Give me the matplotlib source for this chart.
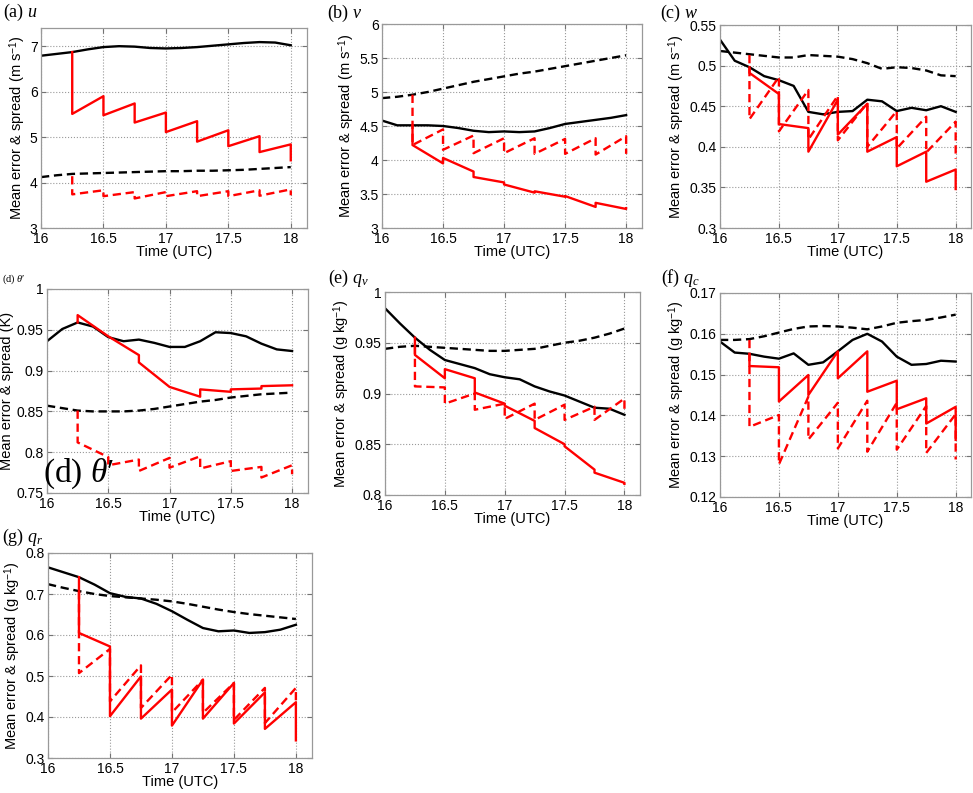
import numpy as np
import matplotlib
matplotlib.use("Agg")
import matplotlib.pyplot as plt
from matplotlib.ticker import FormatStrFormatter

plt.rcParams['font.family'] = ['Liberation Sans', 'DejaVu Sans']
plt.rcParams['mathtext.fontset'] = 'custom'
plt.rcParams['mathtext.rm'] = 'Liberation Sans'
plt.rcParams['mathtext.it'] = 'Liberation Serif:italic'

# time axis for the black curves (every 7.5 min) and the DA cycle times
t = np.arange(16, 18.001, 0.125)
cycles = [16.25, 16.5, 16.75, 17.0, 17.25, 17.5, 17.75, 18.0]

# ---------- (a) u
u_err = [6.79, 6.83, 6.87, 6.93, 6.98, 7.00, 6.99, 6.96, 6.95, 6.96, 6.98, 7.01, 7.04, 7.07, 7.09, 7.08, 7.02]
u_spr = [4.12, 4.16, 4.19, 4.20, 4.21, 4.22, 4.23, 4.24, 4.25, 4.25, 4.26, 4.26, 4.27, 4.28, 4.30, 4.32, 4.34]
u_da_err_f = [6.87, 5.90, 5.74, 5.54, 5.35, 5.15, 5.02, 4.84]
u_da_err_a = [5.51, 5.48, 5.32, 5.11, 4.90, 4.80, 4.67, 4.49]
u_da_spr_f = [4.14, 3.83, 3.79, 3.79, 3.81, 3.81, 3.83, 3.85]
u_da_spr_a = [3.74, 3.70, 3.65, 3.70, 3.70, 3.70, 3.71, 3.72]

# ---------- (b) v
v_err = [4.58, 4.51, 4.51, 4.51, 4.50, 4.47, 4.43, 4.41, 4.42, 4.41, 4.42, 4.47, 4.53, 4.56, 4.59, 4.62, 4.66]
v_spr = [4.91, 4.93, 4.96, 5.00, 5.05, 5.10, 5.15, 5.19, 5.23, 5.27, 5.30, 5.34, 5.38, 5.42, 5.46, 5.50, 5.54]
v_da_err_f = [4.51, 3.95, 3.83, 3.67, 3.52, 3.46, 3.31, 3.28]
v_da_err_a = [4.22, 4.03, 3.75, 3.64, 3.54, 3.47, 3.37, 3.29]
v_da_spr_f = [4.96, 4.45, 4.36, 4.32, 4.32, 4.31, 4.32, 4.35]
v_da_spr_a = [4.22, 4.15, 4.10, 4.10, 4.09, 4.09, 4.08, 4.09]

# ---------- (c) w
w_err = [0.532, 0.506, 0.498, 0.487, 0.482, 0.475, 0.443, 0.440, 0.443, 0.444, 0.458, 0.456, 0.444, 0.448, 0.445, 0.450, 0.443]
w_spr = [0.518, 0.516, 0.514, 0.512, 0.510, 0.510, 0.513, 0.512, 0.511, 0.508, 0.503, 0.496, 0.498, 0.497, 0.494, 0.488, 0.487]
w_da_err_f = [0.498, 0.465, 0.423, 0.458, 0.453, 0.412, 0.394, 0.372]
w_da_err_a = [0.491, 0.428, 0.394, 0.415, 0.394, 0.376, 0.357, 0.348]
w_da_spr_f = [0.513, 0.486, 0.470, 0.463, 0.454, 0.444, 0.437, 0.431]
w_da_spr_a = [0.434, 0.419, 0.409, 0.408, 0.400, 0.398, 0.393, 0.385]

# ---------- (d) theta'
th_err = [0.936, 0.951, 0.959, 0.954, 0.941, 0.936, 0.938, 0.934, 0.929, 0.929, 0.936, 0.947, 0.946, 0.942, 0.933, 0.926, 0.924]
th_spr = [0.857, 0.854, 0.851, 0.850, 0.850, 0.850, 0.851, 0.853, 0.856, 0.859, 0.862, 0.864, 0.867, 0.869, 0.871, 0.872, 0.873]
th_da_err_f = [0.959, 0.942, 0.919, 0.880, 0.868, 0.874, 0.878, 0.882]
th_da_err_a = [0.968, 0.942, 0.910, 0.880, 0.877, 0.877, 0.881, 0.882]
th_da_spr_f = [0.851, 0.794, 0.791, 0.793, 0.795, 0.789, 0.782, 0.784]
th_da_spr_a = [0.812, 0.784, 0.777, 0.781, 0.780, 0.777, 0.769, 0.773]

# ---------- (e) qv
qv_err = [0.984, 0.969, 0.955, 0.943, 0.933, 0.929, 0.925, 0.919, 0.916, 0.914, 0.907, 0.902, 0.898, 0.892, 0.886, 0.885, 0.879]
qv_spr = [0.944, 0.946, 0.947, 0.946, 0.945, 0.944, 0.943, 0.942, 0.942, 0.943, 0.944, 0.947, 0.950, 0.952, 0.955, 0.959, 0.964]
qv_da_err_f = [0.955, 0.915, 0.915, 0.890, 0.873, 0.850, 0.825, 0.812]
qv_da_err_a = [0.938, 0.924, 0.901, 0.888, 0.866, 0.848, 0.822, 0.811]
qv_da_spr_f = [0.947, 0.906, 0.900, 0.890, 0.890, 0.889, 0.887, 0.895]
qv_da_spr_a = [0.907, 0.890, 0.884, 0.875, 0.874, 0.874, 0.874, 0.884]

# ---------- (f) qc
qc_err = [0.1581, 0.1554, 0.1551, 0.1544, 0.1539, 0.1552, 0.1524, 0.1530, 0.1557, 0.1585, 0.1600, 0.1581, 0.1544, 0.1524, 0.1526, 0.1534, 0.1532]
qc_spr = [0.1585, 0.1585, 0.1587, 0.1594, 0.1603, 0.1612, 0.1618, 0.1619, 0.1618, 0.1615, 0.1611, 0.1618, 0.1627, 0.1631, 0.1634, 0.1640, 0.1647]
qc_da_err_f = [0.1551, 0.1518, 0.1499, 0.1557, 0.1557, 0.1485, 0.1442, 0.1421]
qc_da_err_a = [0.1521, 0.1434, 0.1450, 0.1491, 0.1458, 0.1415, 0.1380, 0.1340]
qc_da_spr_f = [0.1585, 0.1401, 0.1446, 0.1431, 0.1436, 0.1431, 0.1423, 0.1403]
qc_da_spr_a = [0.1372, 0.1280, 0.1341, 0.1319, 0.1311, 0.1316, 0.1308, 0.1292]

# ---------- (g) qr
qr_err = [0.765, 0.753, 0.741, 0.723, 0.702, 0.693, 0.689, 0.676, 0.658, 0.637, 0.617, 0.609, 0.611, 0.605, 0.607, 0.613, 0.625]
qr_spr = [0.724, 0.715, 0.707, 0.700, 0.695, 0.692, 0.689, 0.686, 0.682, 0.676, 0.669, 0.662, 0.656, 0.651, 0.647, 0.643, 0.639]
qr_da_err_f = [0.741, 0.572, 0.499, 0.467, 0.491, 0.483, 0.460, 0.436]
qr_da_err_a = [0.605, 0.402, 0.396, 0.379, 0.396, 0.384, 0.371, 0.343]
qr_da_spr_f = [0.707, 0.566, 0.526, 0.503, 0.491, 0.483, 0.471, 0.471]
qr_da_spr_a = [0.507, 0.438, 0.422, 0.411, 0.410, 0.393, 0.385, 0.430]

panels = [
    ("(a) ", "$u$", "m s$^{-1}$", (3, 7.4), np.arange(3, 7.01, 1),
     u_err, u_spr, u_da_err_f, u_da_err_a, u_da_spr_f, u_da_spr_a),
    ("(b) ", "$v$", "m s$^{-1}$", (3, 6), np.arange(3, 6.01, 0.5),
     v_err, v_spr, v_da_err_f, v_da_err_a, v_da_spr_f, v_da_spr_a),
    ("(c) ", "$w$", "m s$^{-1}$", (0.3, 0.55), np.arange(0.3, 0.551, 0.05),
     w_err, w_spr, w_da_err_f, w_da_err_a, w_da_spr_f, w_da_spr_a),
    ("(d) ", "$\\theta$\u2032", "K", (0.75, 1.0), np.arange(0.75, 1.001, 0.05),
     th_err, th_spr, th_da_err_f, th_da_err_a, th_da_spr_f, th_da_spr_a),
    ("(e) ", "$q_v$", "g kg$^{-1}$", (0.8, 1.0), np.arange(0.8, 1.001, 0.05),
     qv_err, qv_spr, qv_da_err_f, qv_da_err_a, qv_da_spr_f, qv_da_spr_a),
    ("(f) ", "$q_c$", "g kg$^{-1}$", (0.12, 0.17), np.arange(0.12, 0.1701, 0.01),
     qc_err, qc_spr, qc_da_err_f, qc_da_err_a, qc_da_spr_f, qc_da_spr_a),
    ("(g) ", "$q_r$", "g kg$^{-1}$", (0.3, 0.8), np.arange(0.3, 0.801, 0.1),
     qr_err, qr_spr, qr_da_err_f, qr_da_err_a, qr_da_spr_f, qr_da_spr_a),
]

# layout in pixels: axes (left, top, right, bottom), title (x, y)
W, H = 973, 793
boxes = [(41, 28, 307, 228), (382, 24, 642, 228), (720, 25, 971, 228),
         (47, 289, 308, 493), (385, 292, 640, 495), (720, 293, 971, 497),
         (48, 553, 312, 758)]
title_pos = [(3, 12), (327, 13), (660, 13), (2, 279), (328, 278), (661, 278), (2, 537)]


def sawtooth(fc, an):
    x = np.repeat(cycles, 2)
    y = np.column_stack([fc, an]).ravel()
    return x, y


fig = plt.figure(figsize=(W / 100, H / 100), dpi=100)
dash = (0, (3.5, 2.0))

for i, p in enumerate(panels):
    lab, sym, unit, ylim, yticks, err, spr, ef, ea, sf, sa = p
    l, tp, r, b = boxes[i]
    ax = fig.add_axes([l / W, 1 - b / H, (r - l) / W, (b - tp) / H])

    ax.plot(t, err, color='k', lw=1.7)
    ax.plot(t, spr, color='k', lw=1.7, linestyle=dash)
    xs, ys = sawtooth(ef, ea)
    ax.plot(xs, ys, color='r', lw=1.7)
    xs, ys = sawtooth(sf, sa)
    ax.plot(xs, ys, color='r', lw=1.7, linestyle=dash)

    ax.set_xlim(16, 18.13)
    ax.set_ylim(*ylim)
    ax.set_xticks([16, 16.5, 17, 17.5, 18])
    ax.set_yticks(yticks)
    ax.xaxis.set_major_formatter(FormatStrFormatter('%g'))
    ax.yaxis.set_major_formatter(FormatStrFormatter('%g'))
    ax.grid(True, linestyle=':', color='0.6', lw=0.8)
    ax.tick_params(direction='in', top=True, right=True, length=3.5,
                   color='0.45', labelcolor='k', labelsize=10)
    ax.tick_params(axis='x', pad=3)
    ax.tick_params(axis='y', pad=2.5)
    for s in ax.spines.values():
        s.set_color('0.6')
        s.set_linewidth(0.9)
    ax.set_xlabel('Time (UTC)', fontsize=10.5, labelpad=-1)
    ax.set_ylabel('Mean error & spread (' + unit + ')', fontsize=10.5, labelpad=1.5)

    tx, ty = title_pos[i]
    fs = 7.5 if i == 3 else 13
    fig.text(tx / W, 1 - ty / H, lab + sym, fontsize=fs, va='center', ha='left',
             family=['Liberation Serif', 'DejaVu Serif'])

# big panel label drawn inside (d)
fig.text(43 / W, 1 - 491 / H, "(d) $\\theta$\u2032", fontsize=24, va='bottom', ha='left',
         family=['Liberation Serif', 'DejaVu Serif'])

fig.savefig('out.png', dpi=100)
